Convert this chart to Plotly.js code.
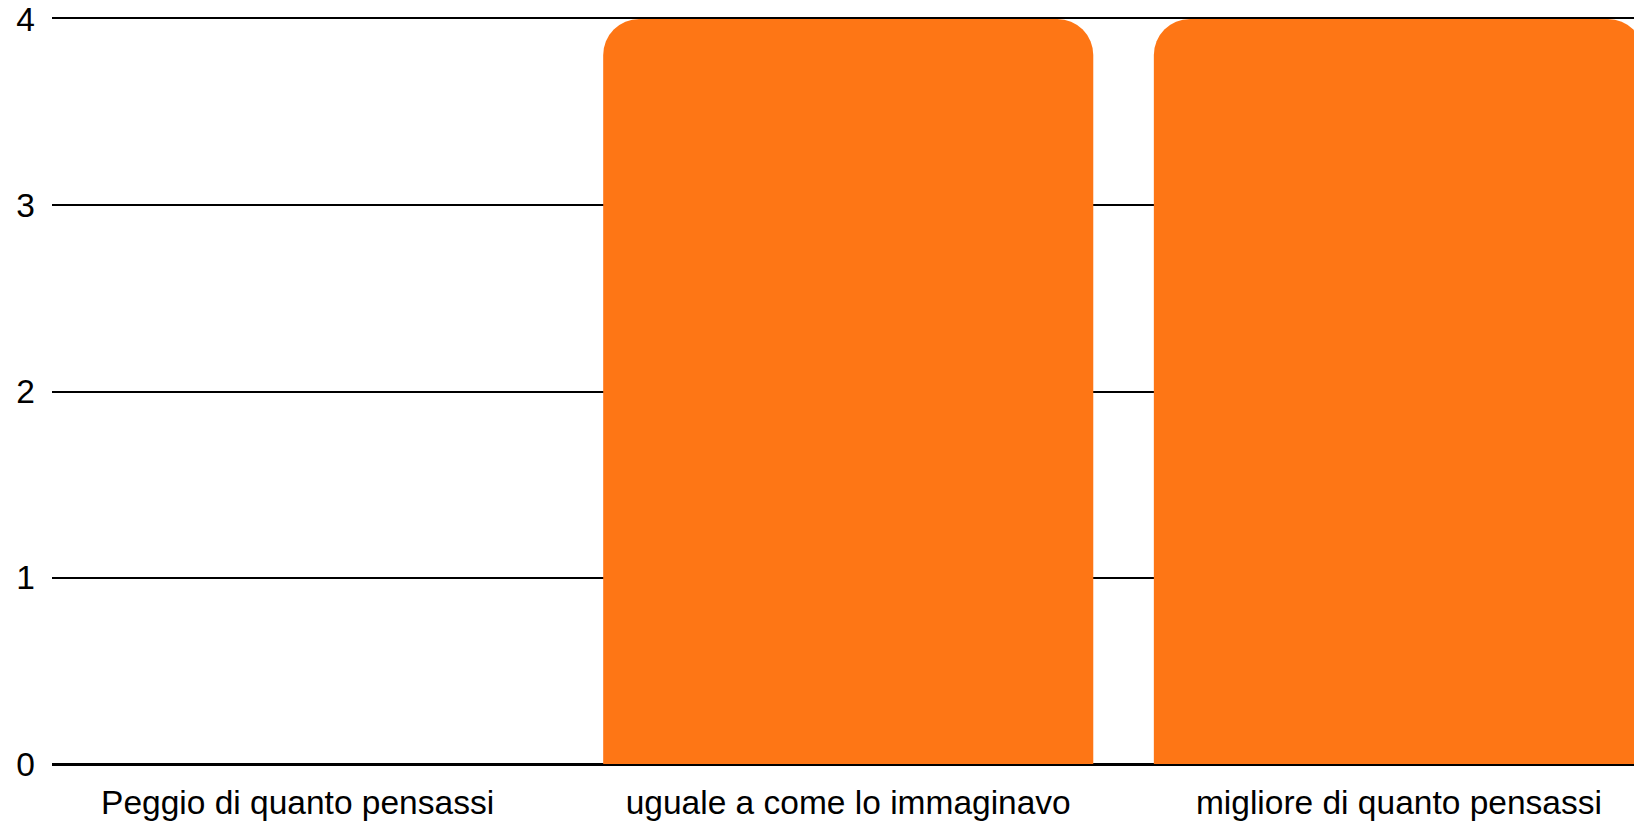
<!DOCTYPE html>
<html>
<head>
<meta charset="utf-8">
<script src="https://cdn.plot.ly/plotly-3.0.1.min.js"></script>
<style>
  html, body { margin: 0; padding: 0; background: #fff; }
  #chart { width: 1634px; height: 822px; }
</style>
</head>
<body>
<div id="chart"></div>
<script>
const categories = ["Peggio di quanto pensassi", "uguale a come lo immaginavo", "migliore di quanto pensassi"];
const values = [0, 4, 4];
const yTicks = [0, 1, 2, 3, 4];

const trace = {
  type: "bar",
  x: [0, 1, 2],
  y: values,
  width: 0.89,
  marker: { color: "#fe7615", line: { width: 0 } },
  hoverinfo: "skip"
};

const layout = {
  width: 1634,
  height: 822,
  margin: { l: 52, r: 0, t: 19, b: 58, pad: 0 },
  paper_bgcolor: "#ffffff",
  plot_bgcolor: "#ffffff",
  showlegend: false,
  barcornerradius: 36,
  font: { family: "Liberation Sans, Arial, sans-serif", size: 33.5, color: "#000000" },
  xaxis: {
    range: [-0.446, 2.427],
    tickmode: "array",
    tickvals: [0, 1, 2],
    ticktext: categories,
    showgrid: false,
    zeroline: false,
    showline: true,
    mirror: true,
    linecolor: "#000000",
    linewidth: 2,
    layer: "below traces",
    ticks: "",
    ticklabelstandoff: 8,
    tickfont: { size: 33.5, color: "#000000" }
  },
  yaxis: {
    range: [0, 4],
    tickmode: "array",
    tickvals: yTicks,
    ticktext: yTicks.map(String),
    showgrid: true,
    gridcolor: "#000000",
    gridwidth: 2,
    zeroline: true,
    zerolinecolor: "#000000",
    zerolinewidth: 2,
    showline: false,
    ticks: "",
    ticklabelstandoff: 16,
    tickfont: { size: 33.5, color: "#000000" }
  }
};

Plotly.newPlot("chart", [trace], layout, { displayModeBar: false, staticPlot: true });
</script>
</body>
</html>
